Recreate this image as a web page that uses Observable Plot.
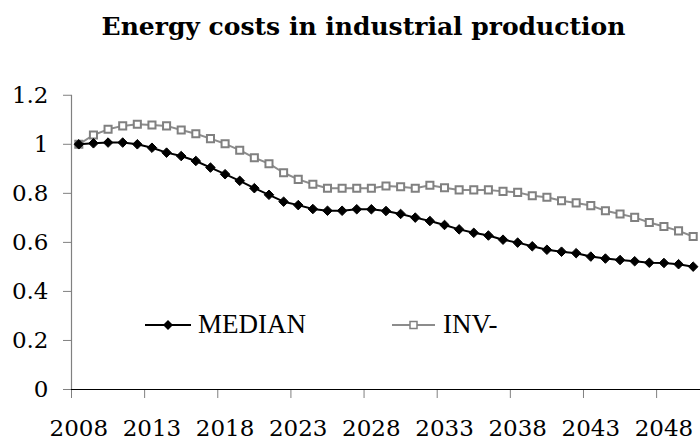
<!DOCTYPE html>
<html>
<head>
<meta charset="utf-8">
<script src="https://cdn.jsdelivr.net/npm/d3@7"></script>
<script src="https://cdn.jsdelivr.net/npm/@observablehq/plot@0.6"></script>
<style>
  html, body { margin: 0; padding: 0; background: #fff; }
  #wrap { position: relative; width: 700px; height: 441px; background: #fff; overflow: hidden; }
  #title { position: absolute; left: 0; top: 14px; width: 727px; text-align: center;
           font-family: "DejaVu Serif", serif; font-weight: bold; font-size: 25px; line-height: 25px; color: #000; }
  #legend { position: absolute; left: 0; top: 0; }
</style>
</head>
<body>
<div id="wrap">
  <div id="chart"></div>
  <div id="title">Energy costs in industrial production</div>
</div>
<script>
// ---- data ----
const years = d3.range(2008, 2051);
const medianValues = [
  1.000, 1.004, 1.007, 1.007, 1.000, 0.986, 0.966, 0.952, 0.932, 0.905,
  0.878, 0.851, 0.821, 0.794, 0.766, 0.752, 0.736, 0.729, 0.729, 0.735,
  0.735, 0.728, 0.716, 0.701, 0.687, 0.671, 0.653, 0.639, 0.628, 0.611,
  0.599, 0.584, 0.570, 0.562, 0.556, 0.542, 0.534, 0.528, 0.523, 0.517,
  0.516, 0.511, 0.501
];
const invValues = [
  1.000, 1.038, 1.061, 1.075, 1.082, 1.079, 1.075, 1.058, 1.043, 1.023,
  1.002, 0.976, 0.945, 0.921, 0.884, 0.857, 0.837, 0.821, 0.821, 0.821,
  0.821, 0.830, 0.827, 0.821, 0.833, 0.823, 0.814, 0.814, 0.814, 0.808,
  0.804, 0.790, 0.784, 0.770, 0.761, 0.750, 0.729, 0.716, 0.702, 0.681,
  0.665, 0.647, 0.624
];
const seriesNames = ["MEDIAN", "INV-"];
const xLabelYears = [2008, 2013, 2018, 2023, 2028, 2033, 2038, 2043, 2048];
const yTicks = [0, 0.2, 0.4, 0.6, 0.8, 1, 1.2];

// ---- build ----
const median = years.map((y, i) => ({year: y, value: medianValues[i]}));
const inv = years.map((y, i) => ({year: y, value: invValues[i]}));
// category axis: each year occupies one slot; tick marks on slot boundaries every 5 categories
const xDomain = [years[0] - 0.5, years[years.length - 1] + 0.5];
const boundaryTicks = xLabelYears.map(y => y - 0.5);

const chart = Plot.plot({
  width: 700,
  height: 441,
  marginLeft: 71,
  marginRight: 0,
  marginTop: 94.75,
  marginBottom: 52,
  style: {fontFamily: "DejaVu Serif, serif", fontSize: "23px", color: "#000", background: "#fff", overflow: "visible"},
  x: {domain: xDomain},
  y: {domain: [0, 1.2]},
  marks: [
    Plot.axisY({ticks: yTicks, tickSize: 8, tickPadding: 15, stroke: "#808080", fill: "#000",
                tickFormat: d => String(d), label: null}),
    Plot.axisX({ticks: boundaryTicks, tickSize: 9, stroke: "#808080", tickFormat: () => "", label: null}),
    Plot.axisX({ticks: xLabelYears, tickSize: 0, tickPadding: 30, fill: "#000",
                tickFormat: d => String(d), label: null}),
    Plot.ruleX([xDomain[0]], {y1: 0, y2: 1.2, stroke: "#808080", strokeWidth: 1.2}),
    Plot.ruleY([0], {stroke: "#000", strokeWidth: 1.2}),
    Plot.line(inv, {x: "year", y: "value", stroke: "#8c8c8c", strokeWidth: 2}),
    Plot.dot(inv, {x: "year", y: "value", symbol: "square2", r: 4.5, stroke: "#808080", strokeWidth: 2, fill: "#fff"}),
    Plot.line(median, {x: "year", y: "value", stroke: "#000", strokeWidth: 2}),
    Plot.dot(median, {x: "year", y: "value", symbol: "diamond2", r: 4.3, stroke: "#000", strokeWidth: 1, fill: "#000"})
  ]
});
document.getElementById("chart").appendChild(chart);

// ---- legend (inside the plot area) ----
const ns = "http://www.w3.org/2000/svg";
const leg = document.createElementNS(ns, "svg");
leg.setAttribute("id", "legend");
leg.setAttribute("width", 700);
leg.setAttribute("height", 441);
const legendItems = [
  {name: seriesNames[0], x0: 145, x1: 191, color: "#000", marker: "diamond", tx: 198},
  {name: seriesNames[1], x0: 392, x1: 435, color: "#8c8c8c", marker: "square", tx: 443}
];
const ly = 325;
for (const it of legendItems) {
  const ln = document.createElementNS(ns, "line");
  ln.setAttribute("x1", it.x0); ln.setAttribute("x2", it.x1);
  ln.setAttribute("y1", ly); ln.setAttribute("y2", ly);
  ln.setAttribute("stroke", it.color); ln.setAttribute("stroke-width", 2);
  leg.appendChild(ln);
  const cx = (it.x0 + it.x1) / 2;
  if (it.marker === "diamond") {
    const p = document.createElementNS(ns, "path");
    p.setAttribute("d", `M${cx},${ly - 5}L${cx + 5},${ly}L${cx},${ly + 5}L${cx - 5},${ly}Z`);
    p.setAttribute("fill", "#000");
    leg.appendChild(p);
  } else {
    const r = document.createElementNS(ns, "rect");
    r.setAttribute("x", cx - 3.5); r.setAttribute("y", ly - 3.5);
    r.setAttribute("width", 7); r.setAttribute("height", 7);
    r.setAttribute("fill", "#fff"); r.setAttribute("stroke", "#808080"); r.setAttribute("stroke-width", 1.5);
    leg.appendChild(r);
  }
  const t = document.createElementNS(ns, "text");
  t.setAttribute("x", it.tx); t.setAttribute("y", 333);
  t.setAttribute("font-family", "Liberation Serif, serif");
  t.setAttribute("font-size", 27);
  t.setAttribute("fill", "#000");
  t.textContent = it.name;
  leg.appendChild(t);
}
document.getElementById("wrap").appendChild(leg);
</script>
</body>
</html>
